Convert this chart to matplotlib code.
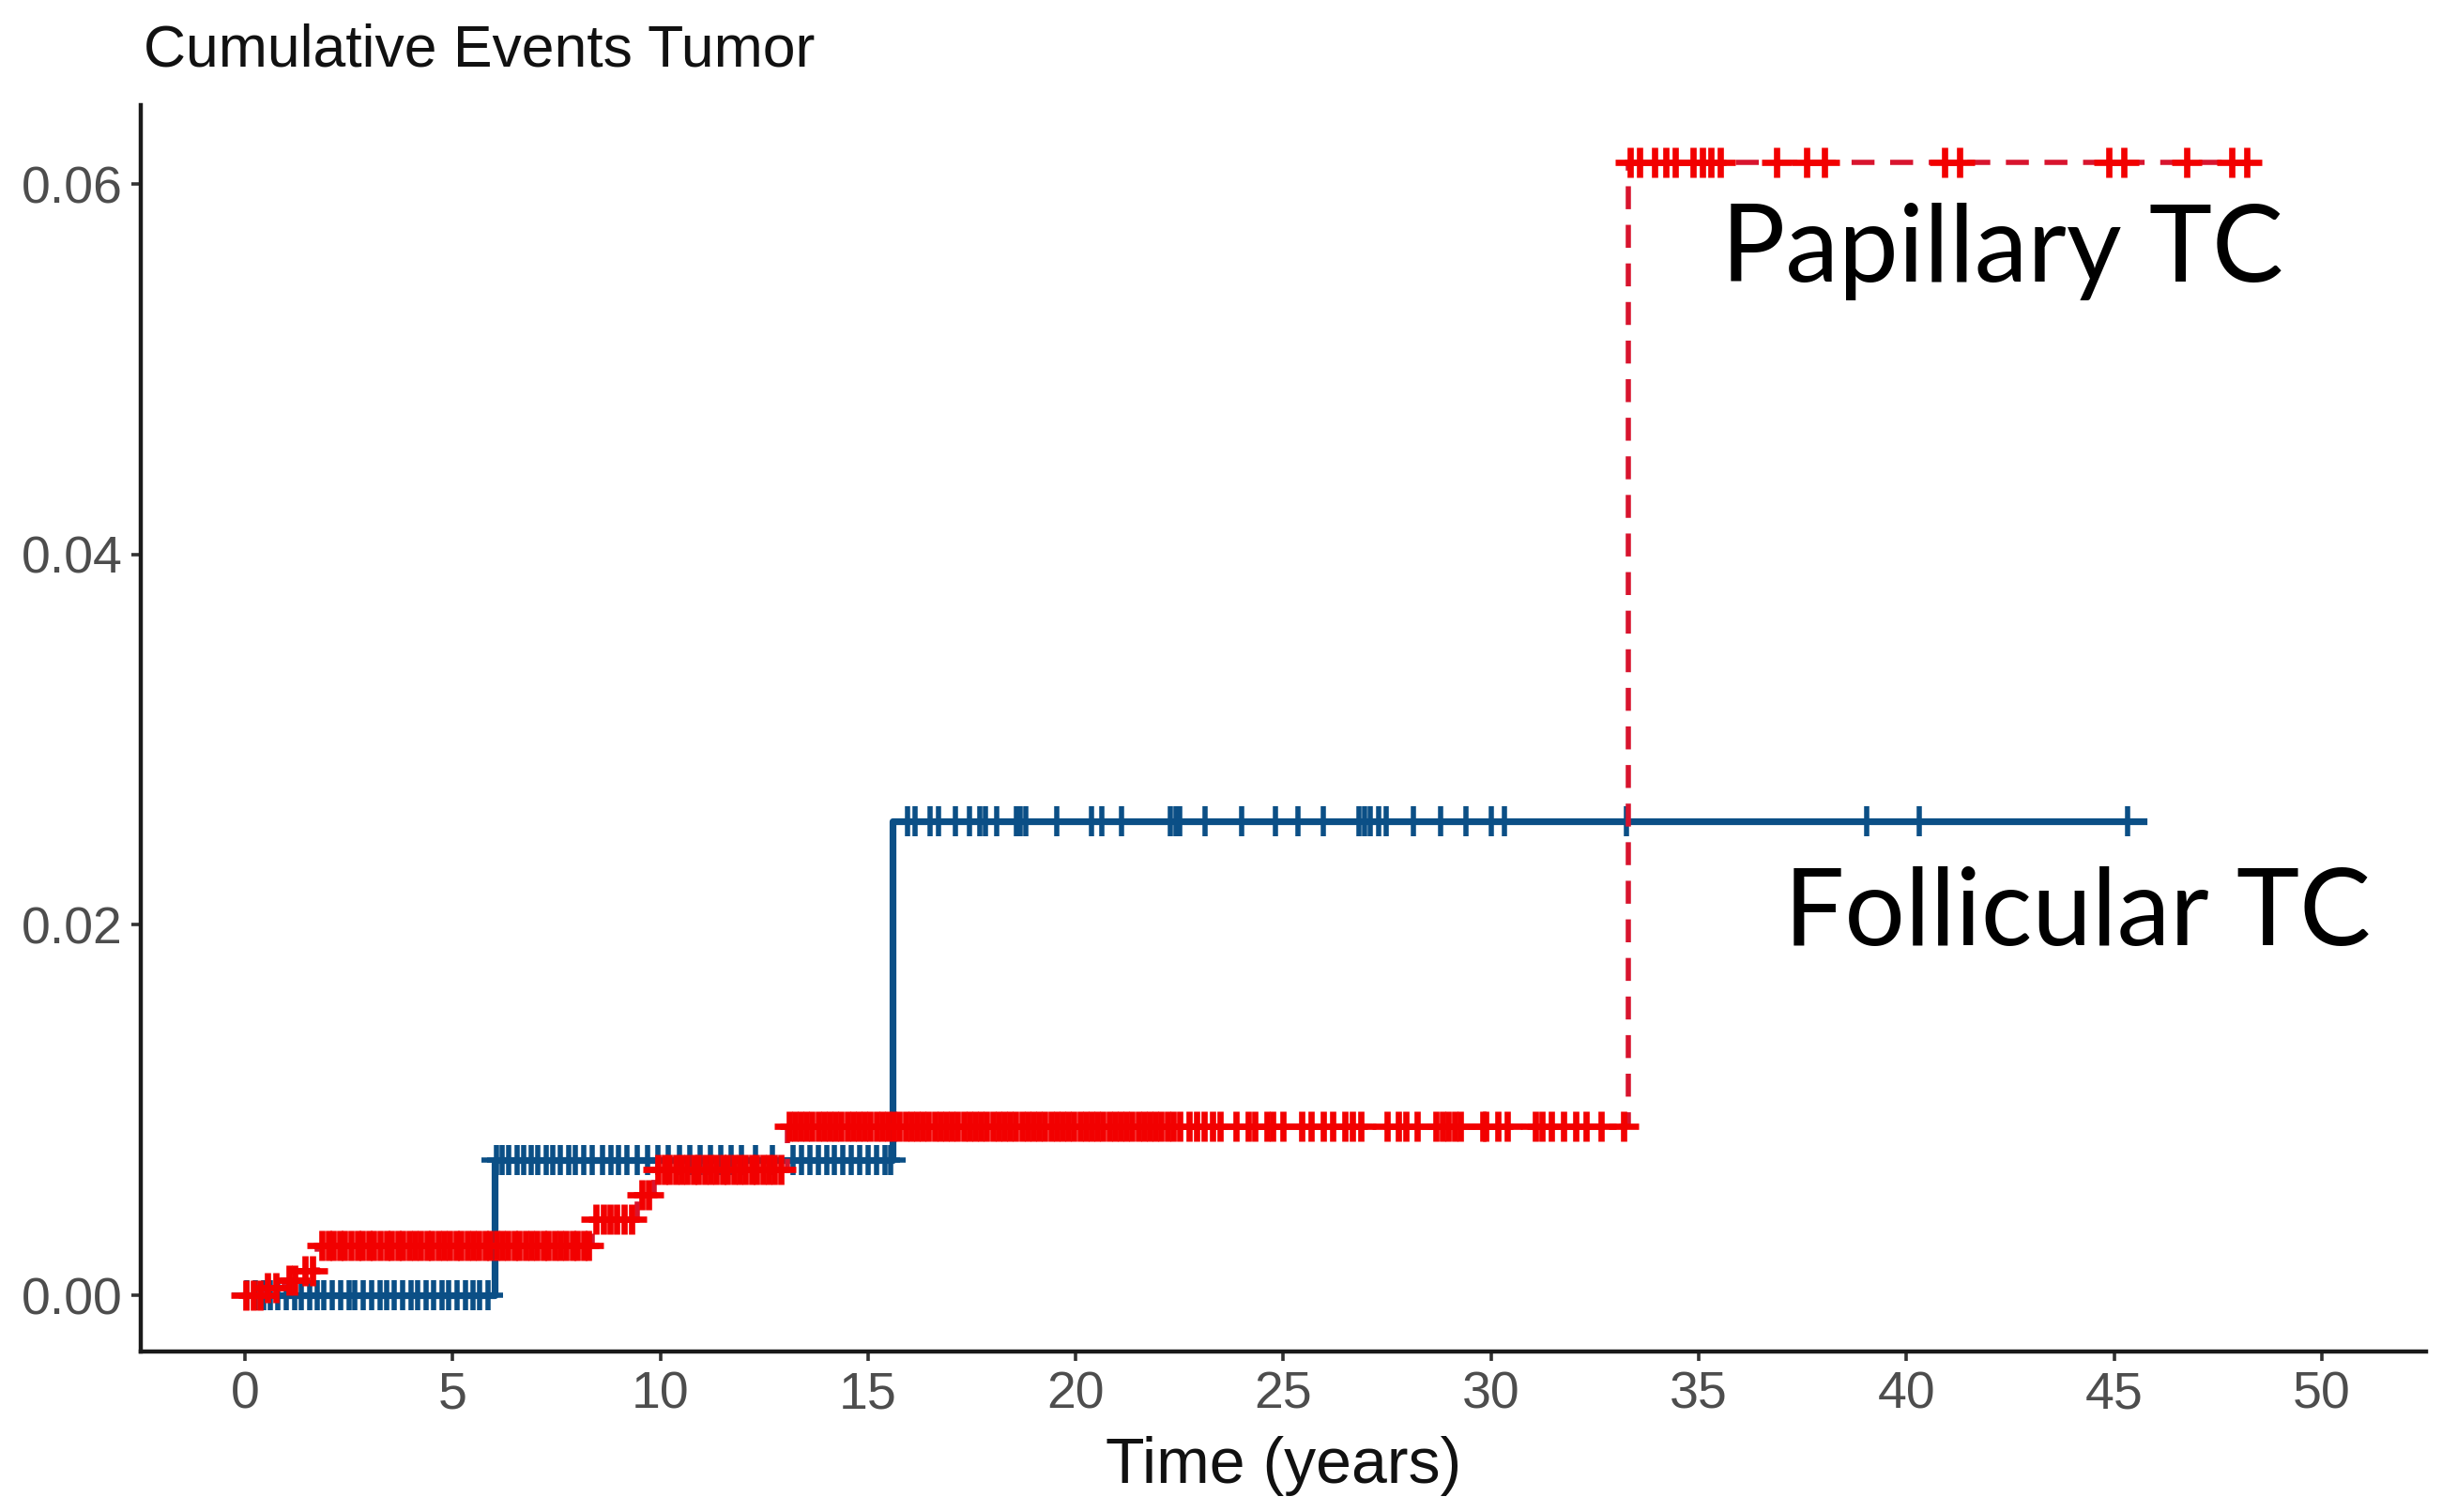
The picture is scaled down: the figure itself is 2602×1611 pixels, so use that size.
import numpy as np
import matplotlib
matplotlib.use("Agg")
import matplotlib.pyplot as plt

# Kaplan-Meier style cumulative event curves
follicular_times = [0.0, 6.0, 15.6]
follicular_cum = [0.0, 0.0073, 0.0256]
follicular_end = 45.7

papillary_times = [0.0, 0.45, 0.95, 1.35, 1.75, 8.35, 9.45, 9.85, 13.05, 33.3]
papillary_cum = [0.0, 0.0004, 0.0008, 0.0013, 0.0027, 0.0041, 0.0054, 0.0068, 0.0091, 0.0612]
papillary_end = 48.2

# censoring times
follicular_censor = [
    0.05, 0.25, 0.45, 0.6, 0.8, 1.0, 1.2, 1.35, 1.55, 1.75, 1.9, 2.1, 2.3, 2.5,
    2.65, 2.85, 3.05, 3.25, 3.4, 3.6, 3.8, 4.0, 4.15, 4.35, 4.55, 4.75, 4.9, 5.1,
    5.3, 5.5, 5.65, 5.85,
    6.05, 6.2, 6.35, 6.55, 6.7, 6.9, 7.05, 7.25, 7.4, 7.6, 7.8, 7.95, 8.15, 8.35,
    8.6, 8.8, 9.0, 9.2, 9.45, 9.7, 9.95, 10.2, 10.45, 10.7, 10.95, 11.2, 11.45,
    11.7, 11.95, 12.3, 12.7, 13.2, 13.4, 13.6, 13.8, 14.0, 14.2, 14.4, 14.6, 14.8,
    15.0, 15.2, 15.4, 15.55,
    15.94, 16.13, 16.5, 16.69, 17.11, 17.44, 17.68, 17.82, 18.1, 18.57, 18.66,
    18.8, 19.55, 20.39, 20.63, 21.1, 22.27, 22.41, 22.5, 23.11, 24.0, 24.8, 25.36,
    25.97, 26.82, 26.95, 27.1, 27.29, 27.47, 28.13, 28.79, 29.39, 30.0, 30.33,
    33.27, 39.04, 40.31, 45.32,
]
papillary_censor = [
    0.02, 0.2, 0.35, 0.55, 0.75, 1.05, 1.2, 1.45, 1.62,
    1.85, 2.0, 2.12, 2.28, 2.4, 2.55, 2.7, 2.82, 2.98, 3.1, 3.25, 3.4, 3.52, 3.68,
    3.8, 3.95, 4.1, 4.22, 4.38, 4.5, 4.65, 4.8, 4.92, 5.08, 5.2, 5.35, 5.5, 5.62,
    5.78, 5.9, 6.05, 6.2, 6.32, 6.48, 6.6, 6.75, 6.9, 7.02, 7.18, 7.3, 7.45, 7.6,
    7.72, 7.88, 8.0, 8.15, 8.28,
    8.45, 8.62, 8.78, 8.95, 9.12, 9.3, 9.55, 9.72,
    9.95, 10.1, 10.22, 10.38, 10.5, 10.65, 10.8, 10.92, 11.08, 11.2, 11.35, 11.5,
    11.62, 11.78, 11.9, 12.05, 12.2, 12.32, 12.48, 12.6, 12.75, 12.9,
    13.1, 13.25, 13.38, 13.52, 13.65, 13.8, 13.95, 14.08, 14.22, 14.35, 14.5,
    14.65, 14.78, 14.92, 15.05, 15.2, 15.35, 15.48, 15.62, 15.75, 15.9, 16.05,
    16.18, 16.32, 16.45, 16.6, 16.75, 16.88, 17.02, 17.15, 17.3, 17.45, 17.58,
    17.72, 17.85, 18.0, 18.15, 18.28, 18.42, 18.55, 18.7, 18.85, 18.98, 19.12,
    19.25, 19.4, 19.55, 19.68, 19.82, 19.95, 20.1, 20.25, 20.38, 20.52, 20.65,
    20.8, 20.95, 21.08, 21.22, 21.35, 21.5, 21.65, 21.78, 21.92, 22.05, 22.2,
    22.35, 22.5, 22.72, 22.9, 23.1, 23.3, 23.47,
    23.85, 24.15, 24.3, 24.6, 24.75, 24.98, 25.43, 25.66, 25.96, 26.19, 26.49,
    26.67, 26.86, 27.5, 27.77, 27.95, 28.22, 28.67, 28.82, 28.97, 29.12, 29.27,
    29.8, 29.87, 30.17, 30.4, 31.07, 31.22, 31.45, 31.75, 32.05, 32.28, 32.65, 33.2,
    33.35, 33.57, 33.93, 34.21, 34.43, 34.86, 35.08, 35.3, 35.51, 36.87, 37.6,
    38.03, 40.92, 41.28, 44.88, 45.24, 46.75, 47.83, 48.19,
]

x_ticks = [0, 5, 10, 15, 20, 25, 30, 35, 40, 45, 50]
y_ticks = [0.00, 0.02, 0.04, 0.06]

blue = "#0B4F86"
red_line = "#D8142E"
red_mark = "#F20000"


def level_at(times, cum, t):
    idx = np.searchsorted(np.asarray(times), np.asarray(t), side="right") - 1
    return np.asarray(cum)[idx]


fig = plt.figure(figsize=(13.01, 8.055), dpi=200)
ax = fig.add_axes([0.0578, 0.1059, 0.9355, 0.8245])

# follicular (solid blue)
fx = follicular_times + [follicular_end]
fy = follicular_cum + [follicular_cum[-1]]
ax.step(fx, fy, where="post", color=blue, lw=2.6, zorder=2)
ax.plot(follicular_censor, level_at(follicular_times, follicular_cum, follicular_censor),
        ls="none", marker="+", ms=11.5, mew=2.0, color=blue, zorder=3)

# papillary (dashed red)
px = papillary_times + [papillary_end]
py = papillary_cum + [papillary_cum[-1]]
ax.step(px, py, where="post", color=red_line, lw=2.0, dashes=(4.4, 3.0), zorder=4)
ax.plot(papillary_censor, level_at(papillary_times, papillary_cum, papillary_censor),
        ls="none", marker="+", ms=11.5, mew=2.4, color=red_mark, zorder=5)

ax.set_xlim(-2.5, 52.5)
ax.set_ylim(-0.00306, 0.06426)
ax.set_xticks(x_ticks)
ax.set_yticks(y_ticks)
ax.set_yticklabels([f"{v:.2f}" for v in y_ticks])

for side in ["top", "right"]:
    ax.spines[side].set_visible(False)
for side in ["left", "bottom"]:
    ax.spines[side].set_linewidth(1.6)
    ax.spines[side].set_color("#1A1A1A")

ax.tick_params(axis="both", length=3.6, width=1.3, color="#333333", pad=3.6,
               labelsize=20, labelcolor="#4D4D4D")
for lab in ax.get_xticklabels() + ax.get_yticklabels():
    lab.set_fontfamily("Liberation Sans")

ax.set_xlabel("Time (years)", fontsize=24.5, fontfamily="Liberation Sans", color="#111111")
ax.xaxis.set_label_coords(0.5, -0.105)
ax.xaxis.label.set_va("baseline")

fig.text(0.0588, 0.9565, "Cumulative Events Tumor", fontsize=22.5,
         fontfamily="Liberation Sans", color="#111111", ha="left", va="baseline")

ax.text(35.55, 0.05474, "Papillary TC", fontsize=41, fontfamily="Lato",
        color="black", ha="left", va="baseline")
ax.text(37.05, 0.0189, "Follicular TC", fontsize=41, fontfamily="Lato",
        color="black", ha="left", va="baseline")

fig.savefig("out.png", dpi=200, facecolor="white")
